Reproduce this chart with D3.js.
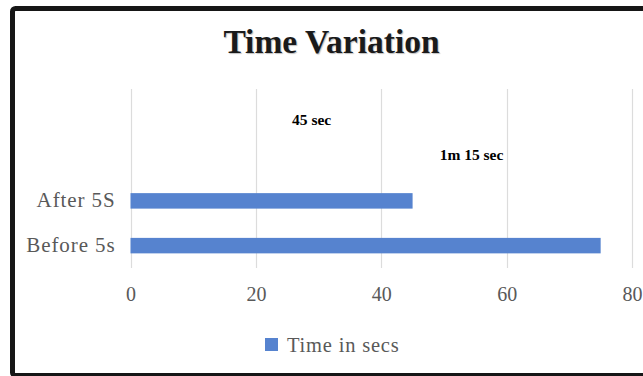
<!DOCTYPE html>
<html>
<head>
<meta charset="utf-8">
<script src="https://cdn.jsdelivr.net/npm/d3@7"></script>
<style>
  html, body { margin: 0; padding: 0; background: #fff; }
  svg { display: block; }
</style>
</head>
<body>
<svg id="chart" width="643" height="376"></svg>
<script>
// Chart data
const categories = ["", " ", "After 5S", "Before 5s"];   // two empty slots above the bars
const values = [null, null, 45, 75];                     // seconds
const valueLabels = ["45 sec", "1m 15 sec"];
const labelCategory = ["", " "];                         // rows that carry the text labels
const labelOffset = [-16.1, -20.6];                      // label centre, in axis units, relative to the value
const labelShift = [9, -1];                              // vertical nudge within the row, px
const xTicks = [0, 20, 40, 60, 80];
const seriesName = "Time in secs";
const chartTitle = "Time Variation";

const svg = d3.select("#chart");
const barColor = "#5683cf";
const textGray = "#595959";
const serif = "'Liberation Serif', 'Times New Roman', serif";

// Frame around the chart
svg.append("rect")
  .attr("x", 12.5).attr("y", 8.5)
  .attr("width", 700).attr("height", 367)
  .attr("rx", 3)
  .attr("fill", "#fff")
  .attr("stroke", "#161616")
  .attr("stroke-width", 5);

const plot = { left: 130.5, right: 632, top: 89, bottom: 268 };

const x = d3.scaleLinear().domain([0, 80]).range([plot.left, plot.right]);
const y = d3.scaleBand().domain(categories)
  .range([plot.top, plot.bottom])
  .paddingInner(0.654).paddingOuter(0.327);

// Vertical gridlines
svg.append("g")
  .selectAll("line")
  .data(xTicks)
  .join("line")
  .attr("x1", d => Math.round(x(d)) + 0.5)
  .attr("x2", d => Math.round(x(d)) + 0.5)
  .attr("y1", plot.top).attr("y2", plot.bottom)
  .attr("stroke", "#dcdcdc").attr("stroke-width", 1.2);

// Bars
svg.append("g")
  .selectAll("rect")
  .data(categories.map((c, i) => ({ c, v: values[i] })).filter(d => d.v != null))
  .join("rect")
  .attr("x", x(0))
  .attr("y", d => y(d.c))
  .attr("width", d => x(d.v) - x(0))
  .attr("height", y.bandwidth())
  .attr("fill", barColor);

// X axis tick labels
const xAxis = d3.axisBottom(x).tickValues(xTicks).tickSize(0).tickPadding(0);
const gx = svg.append("g").attr("transform", `translate(0,${plot.bottom})`).call(xAxis);
gx.select(".domain").remove();
gx.selectAll("text")
  .attr("dy", null).attr("y", 33)
  .attr("font-family", serif).attr("font-size", 20)
  .attr("fill", textGray);

// Y axis category labels
const yAxis = d3.axisLeft(y).tickSize(0).tickPadding(0);
const gy = svg.append("g").attr("transform", `translate(${plot.left - 15},0)`).call(yAxis);
gy.select(".domain").remove();
gy.selectAll("text")
  .attr("dy", "0.3em")
  .attr("font-family", serif).attr("font-size", 21)
  .attr("letter-spacing", 0.9)
  .attr("fill", textGray);

// Value labels
const barValues = values.filter(v => v != null);
svg.append("g")
  .selectAll("text")
  .data(valueLabels)
  .join("text")
  .attr("x", (d, i) => x(barValues[i] + labelOffset[i]))
  .attr("y", (d, i) => y(labelCategory[i]) + y.bandwidth() / 2 + 5 + labelShift[i])
  .attr("text-anchor", "middle")
  .attr("font-family", serif).attr("font-weight", "bold").attr("font-size", 15.5)
  .attr("fill", "#000")
  .text(d => d);

// Title
svg.append("text")
  .attr("x", 331.5).attr("y", 53)
  .attr("text-anchor", "middle")
  .attr("font-family", serif).attr("font-weight", "bold").attr("font-size", 33.5)
  .attr("fill", "#1a1a1a")
  .style("text-shadow", "1px 1px 1px rgba(0,0,0,0.25)")
  .text(chartTitle);

// Legend
const legend = svg.append("g").attr("transform", "translate(265,338)");
legend.append("rect").attr("width", 13).attr("height", 13).attr("fill", barColor);
legend.append("text")
  .attr("x", 22).attr("y", 13.5)
  .attr("font-family", serif).attr("font-size", 20.5)
  .attr("letter-spacing", 0.8)
  .attr("fill", textGray)
  .text(seriesName);
</script>
</body>
</html>
